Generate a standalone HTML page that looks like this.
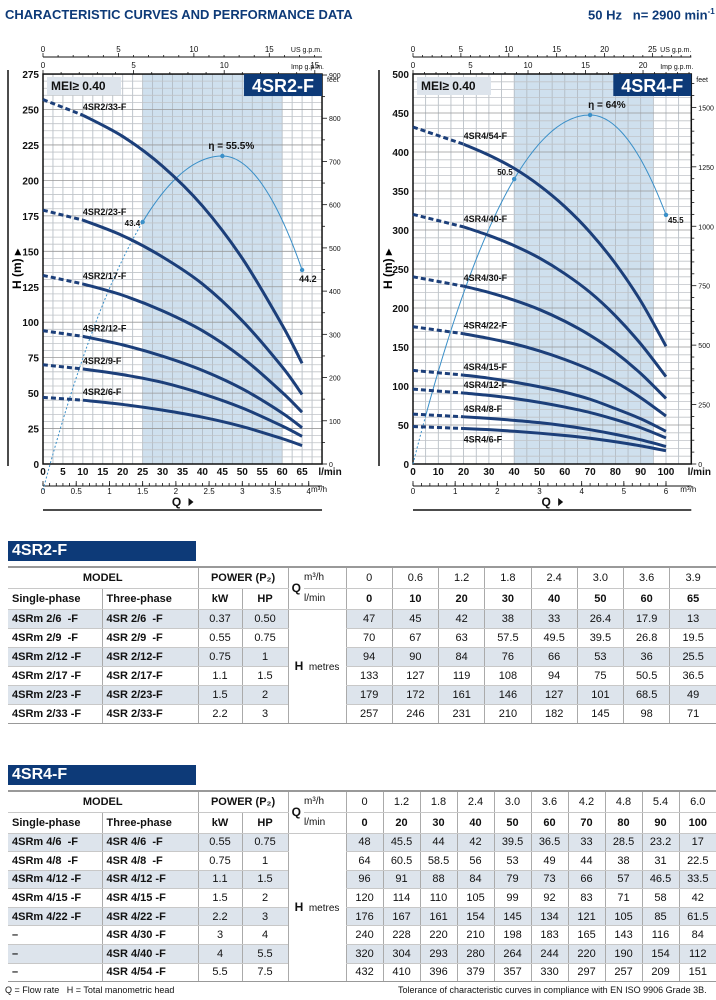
<!DOCTYPE html>
<html><head><meta charset="utf-8">
<style>
*{margin:0;padding:0;box-sizing:border-box}
body{width:716px;height:1000px;background:#fff;position:relative;overflow:hidden;font-family:"Liberation Sans Narrow","Liberation Sans",sans-serif;color:#111}
.t{position:absolute;white-space:nowrap}
.hdr{position:absolute;left:8px;width:188px;height:20px;background:#0d3a78;color:#fff;font-weight:bold;font-size:16px;padding-left:4px;line-height:20px}
table{position:absolute;left:8px;border-collapse:collapse;font-size:11px;table-layout:fixed}
td{border-left:1px solid #aaa;border-bottom:1px solid #c8c8c8;text-align:center;padding:0;overflow:hidden;white-space:nowrap}
tr td:first-child{border-left:none}
.b{font-weight:bold}
.l{text-align:left;padding-left:4px;font-weight:bold}
.s td{background:#dde4ec}
.s td.hm{background:#fff}
.top td{border-top:2px solid #999}
</style></head><body>
<div class="t" style="left:5px;top:7px;font-size:13px;font-weight:bold;color:#0d3a78;font-family:'Liberation Sans',sans-serif">CHARACTERISTIC CURVES AND PERFORMANCE DATA</div>
<div class="t" style="left:588px;top:7px;font-size:13px;font-weight:bold;color:#0d3a78;font-family:'Liberation Sans',sans-serif">50 Hz&nbsp;&nbsp; n= 2900 min<sup style="font-size:8px">-1</sup></div>
<svg id="sv" width="716" height="530" style="position:absolute;left:0;top:0"></svg>

<div class="hdr" style="top:541px">4SR2-F</div>
<table id="t1" style="top:566px"></table>
<div class="hdr" style="top:765px">4SR4-F</div>
<table id="t2" style="top:790px"></table>
<div class="t" style="left:5px;top:985px;font-size:9px;font-family:'Liberation Sans',sans-serif">Q = Flow rate&nbsp;&nbsp; H = Total manometric head</div>
<div class="t" style="left:398px;top:985px;font-size:9px;font-family:'Liberation Sans',sans-serif">Tolerance of characteristic curves in compliance with EN ISO 9906 Grade 3B.</div>

<script>
var S='';
function ln(x1,y1,x2,y2,c,w,d){S+='<line x1="'+x1+'" y1="'+y1+'" x2="'+x2+'" y2="'+y2+'" stroke="'+c+'" stroke-width="'+w+'"'+(d?' stroke-dasharray="'+d+'"':'')+'/>';}
function tx(x,y,s,sz,a,b,c){S+='<text x="'+x+'" y="'+y+'" font-size="'+sz+'" text-anchor="'+(a||'start')+'" font-weight="'+(b?'bold':'normal')+'" fill="'+(c||'#111')+'" font-family="Liberation Sans Narrow,Liberation Sans,sans-serif">'+s+'</text>';}
function cr(pts){var d='M'+pts[0][0]+','+pts[0][1];for(var i=0;i<pts.length-1;i++){var p0=pts[i-1]||pts[i],p1=pts[i],p2=pts[i+1],p3=pts[i+2]||p2;d+=' C'+(p1[0]+(p2[0]-p0[0])/6)+','+(p1[1]+(p2[1]-p0[1])/6)+' '+(p2[0]-(p3[0]-p1[0])/6)+','+(p2[1]-(p3[1]-p1[1])/6)+' '+p2[0]+','+p2[1];}return d;}
function chart(o){
 var X=function(q){return o.x0+q*o.kx},Y=function(h){return o.y0-h*o.ky};
 var xr=X(o.qmax),yt=Y(o.hmax);
 S+='<rect x="'+X(o.sh[0])+'" y="'+yt+'" width="'+(X(o.sh[1])-X(o.sh[0]))+'" height="'+(o.y0-yt)+'" fill="#cfe0ee"/>';
 for(var q=0;q<=o.qmax+0.01;q+=o.gq)ln(X(q),yt,X(q),o.y0,'#b0b8c0',0.8);
 for(var h=0;h<=o.hmax+0.01;h+=o.gh)ln(o.x0,Y(h),xr,Y(h),(h%o.lh==0)?'#999':'#c0c4c8',0.8);
 S+='<rect x="'+o.x0+'" y="'+yt+'" width="'+(xr-o.x0)+'" height="'+(o.y0-yt)+'" fill="none" stroke="#111" stroke-width="1.5"/>';
 S+='<rect x="'+(o.x0+4)+'" y="'+(yt+3)+'" width="74" height="18" fill="#dde4ec"/>';
 tx(o.x0+8,yt+16,'MEI≥ 0.40',12,'start',1);
 S+='<rect x="'+(xr-78)+'" y="'+yt+'" width="78" height="22" fill="#0d3a78"/>';
 tx(xr-39,yt+18,o.name,18,'middle',1,'#fff');
 for(var h=0;h<=o.hmax;h+=o.lh)tx(o.x0-4,Y(h)+4,h,10,'end',1);
 for(var q=0;q<=o.qlab;q+=o.lq)tx(X(q),o.y0+11,q,10,'middle',1);
 tx(xr+8,o.y0+11,'l/min',10,'middle',1);
 var ya=o.y0+22;ln(o.x0,ya,xr,ya,'#111',1);
 for(var m=0;m<=o.mmax+0.001;m+=o.mt){ln(X(m*1000/60),ya,X(m*1000/60),ya-3,'#111',0.8);}
 for(var m=0;m<=o.mmax+0.001;m+=o.ml){ln(X(m*1000/60),ya,X(m*1000/60),ya-5,'#111',0.8);tx(X(m*1000/60),ya+8,m,8,'middle');}
 tx(xr+5,ya+6,'m³/h',8,'end');
 tx((o.x0+xr)/2-6,o.y0+42,'Q',12,'middle',1);S+='<path d="M'+((o.x0+xr)/2+6)+','+(o.y0+34)+' l5,4 l-5,4z" fill="#111"/>';
 ln(o.x0,o.y0+46,xr,o.y0+46,'#111',1.5);
 var yu=57;ln(o.x0,yu,xr,yu,'#111',1);
 for(var g=0;g*3.785<=o.qmax;g++){ln(X(g*3.785),yu,X(g*3.785),yu-(g%5?2:4),'#111',0.8);if(g%5==0)tx(X(g*3.785),yu-5,g,8,'middle');}
 tx(xr,yu-5,'US g.p.m.',7,'end');
 for(var g=0;g*4.546<=o.qmax;g++){ln(X(g*4.546),yt,X(g*4.546),yt-(g%5?2:4),'#111',0.8);if(g%5==0)tx(X(g*4.546),yt-6,g,8,'middle');}
 tx(xr+2,yt-5,'Imp g.p.m.',7,'end');
 for(var f=0;f*0.3048<=o.hmax;f+=o.ft){var yy=Y(f*0.3048);ln(xr,yy,xr+(f%o.fl?3:5),yy,'#111',0.8);if(f%o.fl==0)tx(xr+7,yy+3,f,7,'start');}
 tx(xr+5,yt+8,'feet',7,'start');
 ln(o.bx,yt-4,o.bx,o.y0+2,'#111',1.5);
 S+='<g transform="translate('+(o.bx+13)+','+(Y(o.hmax*0.5))+') rotate(-90)"><text x="0" y="0" font-size="12" font-weight="bold" text-anchor="middle" font-family="Liberation Sans,sans-serif">H (m) ▸</text></g>';
 var ep=[];for(var q=0;q<=o.e.end+0.01;q+=1){var k=q<o.e.pq?o.e.kl:o.e.kr;ep.push([X(q),o.e.py+k*(q-o.e.pq)*(q-o.e.pq)]);}
 var sd=Math.round(o.e.ds);
 S+='<path d="'+cr(ep.slice(0,sd+1))+'" fill="none" stroke="#3a8fc8" stroke-width="1" stroke-dasharray="2,2"/>';
 S+='<path d="'+cr(ep.slice(sd))+'" fill="none" stroke="#3a8fc8" stroke-width="1"/>';
 o.e.pts.forEach(function(p){var q=p[0],k=q<o.e.pq?o.e.kl:o.e.kr,yy=o.e.py+k*(q-o.e.pq)*(q-o.e.pq);S+='<circle cx="'+X(q)+'" cy="'+yy+'" r="2.2" fill="#3a8fc8"/>';tx(X(q)+p[2],yy+p[3],p[1],p[4]||8,p[5]||'start',1);});
 o.c.forEach(function(c){var p=o.q.map(function(q,i){return [X(q),Y(c[1][i])]});
  var ds=o.q.indexOf(o.dq);
  S+='<path d="'+cr(p.slice(0,ds+1))+'" fill="none" stroke="#1c3f7a" stroke-width="3" stroke-dasharray="5,3"/>';
  S+='<path d="'+cr(p.slice(ds))+'" fill="none" stroke="#1c3f7a" stroke-width="3"/>';
  var ly=c[2]?Y(c[1][ds])+14:Y(c[1][ds])-5;tx(X(o.dq),ly,c[0],9,'start',1);});
}
chart({x0:43,kx:3.986,y0:464,ky:1.418,qmax:70,hmax:275,qlab:65,lq:5,gq:2.5,gh:5,lh:25,sh:[25,60],name:'4SR2-F',mmax:4,mt:0.1,ml:0.5,ft:50,fl:100,bx:8,
 q:[0,10,20,30,40,50,60,65],dq:10,
 c:[['4SR2/6-F',[47,45,42,38,33,26.4,17.9,13]],['4SR2/9-F',[70,67,63,57.5,49.5,39.5,26.8,19.5]],['4SR2/12-F',[94,90,84,76,66,53,36,25.5]],['4SR2/17-F',[133,127,119,108,94,75,50.5,36.5]],['4SR2/23-F',[179,172,161,146,127,101,68.5,49]],['4SR2/33-F',[257,246,231,210,182,145,98,71]]],
 e:{pq:45,py:156,kl:0.165,kr:0.285,end:65,ds:25,pts:[[25,'43.4',-18,4,8],[45,'η = 55.5%',-14,-7,10],[65,'44.2',-3,12,9]]}});
chart({x0:413,kx:2.53,y0:464,ky:0.78,qmax:110,hmax:500,qlab:100,lq:10,gq:5,gh:10,lh:50,sh:[40,95],name:'4SR4-F',mmax:6,mt:0.2,ml:1,ft:50,fl:250,bx:379,
 q:[0,20,30,40,50,60,70,80,90,100],dq:20,
 c:[['4SR4/6-F',[48,45.5,44,42,39.5,36.5,33,28.5,23.2,17],1],['4SR4/8-F',[64,60.5,58.5,56,53,49,44,38,31,22.5]],['4SR4/12-F',[96,91,88,84,79,73,66,57,46.5,33.5]],['4SR4/15-F',[120,114,110,105,99,92,83,71,58,42]],['4SR4/22-F',[176,167,161,154,145,134,121,105,85,61.5]],['4SR4/30-F',[240,228,220,210,198,183,165,143,116,84]],['4SR4/40-F',[320,304,293,280,264,244,220,190,154,112]],['4SR4/54-F',[432,410,396,379,357,330,297,257,209,151]]],
 e:{pq:70,py:115,kl:0.0712,kr:0.111,end:100,ds:5,pts:[[40,'50.5',-17,-4,8],[70,'η = 64%',-2,-7,10],[100,'45.5',2,8,8]]}});
document.getElementById('sv').innerHTML=S;

function tbl(id,m3,lm,rows,rh){
 var n=m3.length,vw=Math.round(370/n*100)/100;
 var h='<colgroup><col style="width:94px"><col style="width:96px"><col style="width:44px"><col style="width:46px"><col style="width:16px"><col style="width:42px">';
 for(var i=0;i<n;i++)h+='<col style="width:'+vw+'px">';h+='</colgroup>';
 h+='<tr class="top" style="height:21px"><td colspan="2" class="b">MODEL</td><td colspan="2" class="b">POWER (P₂)</td><td rowspan="2" class="b" style="border-right:none;font-size:12px">Q</td><td style="border-left:none;text-align:left;font-size:10px">m³/h</td>';
 m3.forEach(function(v){h+='<td>'+v+'</td>'});
 h+='</tr><tr style="height:21px"><td class="l">Single-phase</td><td class="l">Three-phase</td><td class="b">kW</td><td class="b">HP</td><td style="border-left:none;text-align:left;font-size:10px">l/min</td>';
 lm.forEach(function(v){h+='<td class="b">'+v+'</td>'});h+='</tr>';
 rows.forEach(function(r,i){h+='<tr class="'+(i%2==0?'s':'')+'" style="height:'+rh+'px"><td class="l">'+r[0]+'</td><td class="l">'+r[1]+'</td><td>'+r[2]+'</td><td>'+r[3]+'</td>';
  if(i==0)h+='<td colspan="2" rowspan="'+rows.length+'" class="hm" style="font-size:10px;border-bottom:1px solid #999"><b style="font-size:12px">H</b>&nbsp; metres</td>';
  r[4].forEach(function(v){h+='<td>'+v+'</td>'});h+='</tr>';});
 var t=document.getElementById(id);t.innerHTML=h;t.style.width='708px';
 var last=t.rows[t.rows.length-1];for(var j=0;j<last.cells.length;j++)last.cells[j].style.borderBottom='1px solid #999';
}
tbl('t1',['0','0.6','1.2','1.8','2.4','3.0','3.6','3.9'],[0,10,20,30,40,50,60,65],[
['4SRm 2/6 &nbsp;-F','4SR 2/6 &nbsp;-F','0.37','0.50',[47,45,42,38,33,26.4,17.9,13]],
['4SRm 2/9 &nbsp;-F','4SR 2/9 &nbsp;-F','0.55','0.75',[70,67,63,57.5,49.5,39.5,26.8,19.5]],
['4SRm 2/12 -F','4SR 2/12-F','0.75','1',[94,90,84,76,66,53,36,25.5]],
['4SRm 2/17 -F','4SR 2/17-F','1.1','1.5',[133,127,119,108,94,75,50.5,36.5]],
['4SRm 2/23 -F','4SR 2/23-F','1.5','2',[179,172,161,146,127,101,68.5,49]],
['4SRm 2/33 -F','4SR 2/33-F','2.2','3',[257,246,231,210,182,145,98,71]]],19);
tbl('t2',['0','1.2','1.8','2.4','3.0','3.6','4.2','4.8','5.4','6.0'],[0,20,30,40,50,60,70,80,90,100],[
['4SRm 4/6 &nbsp;-F','4SR 4/6 &nbsp;-F','0.55','0.75',[48,45.5,44,42,39.5,36.5,33,28.5,23.2,17]],
['4SRm 4/8 &nbsp;-F','4SR 4/8 &nbsp;-F','0.75','1',[64,60.5,58.5,56,53,49,44,38,31,22.5]],
['4SRm 4/12 -F','4SR 4/12 -F','1.1','1.5',[96,91,88,84,79,73,66,57,46.5,33.5]],
['4SRm 4/15 -F','4SR 4/15 -F','1.5','2',[120,114,110,105,99,92,83,71,58,42]],
['4SRm 4/22 -F','4SR 4/22 -F','2.2','3',[176,167,161,154,145,134,121,105,85,61.5]],
['–','4SR 4/30 -F','3','4',[240,228,220,210,198,183,165,143,116,84]],
['–','4SR 4/40 -F','4','5.5',[320,304,293,280,264,244,220,190,154,112]],
['–','4SR 4/54 -F','5.5','7.5',[432,410,396,379,357,330,297,257,209,151]]],18.6);
</script>
</body></html>
